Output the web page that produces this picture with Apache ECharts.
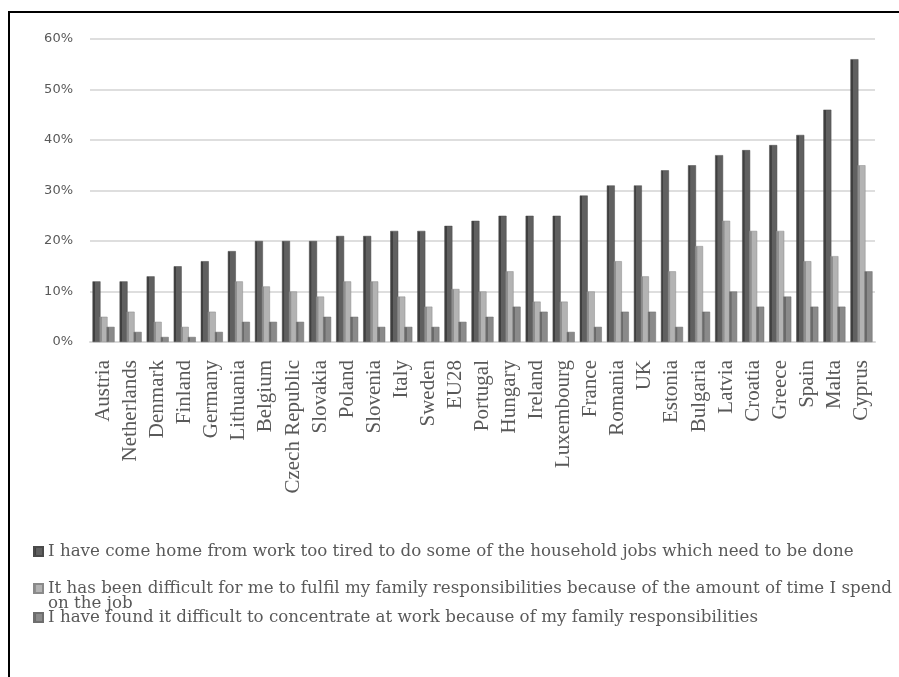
<!DOCTYPE html>
<html>
<head>
<meta charset="utf-8">
<title>Work-life conflict by country</title>
<script src="https://cdn.jsdelivr.net/npm/echarts@6/dist/echarts.min.js"></script>
<style>
  html, body { margin: 0; padding: 0; background: #fff; }
  #myChart { width: 899px; height: 677px; }
</style>
</head>
<body>
<div id="myChart"></div>
<script>
// countries, sorted the same way as the source picture
var countries = ["Austria", "Netherlands", "Denmark", "Finland", "Germany", "Lithuania", "Belgium",
  "Czech Republic", "Slovakia", "Poland", "Slovenia", "Italy", "Sweden", "EU28", "Portugal",
  "Hungary", "Ireland", "Luxembourg", "France", "Romania", "UK", "Estonia", "Bulgaria", "Latvia",
  "Croatia", "Greece", "Spain", "Malta", "Cyprus"];

var seriesNames = [
  "I have come home from work too tired to do some of the household jobs which need to be done",
  "It has been difficult for me to fulfil my family responsibilities because of the amount of time I spend on the job",
  "I have found it difficult to concentrate at work because of my family responsibilities"
];

// values in %
var tiredValues = [12, 12, 13, 15, 16, 18, 20, 20, 20, 21, 21, 22, 22, 23, 24,
  25, 25, 25, 29, 31, 31, 34, 35, 37, 38, 39, 41, 46, 56];
var familyValues = [5, 6, 4, 3, 6, 12, 11, 10, 9, 12, 12, 9, 7, 10.5, 10,
  14, 8, 8, 10, 16, 13, 14, 19, 24, 22, 22, 16, 17, 35];
var concentrateValues = [3, 2, 1, 1, 2, 4, 4, 4, 5, 5, 3, 3, 3, 4, 5,
  7, 6, 2, 3, 6, 6, 3, 6, 10, 7, 9, 7, 7, 14];

var yTicks = { min: 0, max: 60, interval: 10 };

// little fake-3D look: darker left edge on every bar
function shade(edge, face) {
  return new echarts.graphic.LinearGradient(0, 0, 1, 0, [
    { offset: 0, color: edge },
    { offset: 0.28, color: edge },
    { offset: 0.32, color: face },
    { offset: 1, color: face }
  ]);
}

// one legend per entry so each row can sit where the picture has it
function makeLegend(item, top, itemHeight, lineHeight) {
  return {
    data: [item],
    orient: "vertical",
    left: 33,
    top: top,
    padding: 0,
    itemWidth: 9,
    itemHeight: itemHeight,
    icon: "rect",
    textStyle: {
      fontFamily: "DejaVu Serif",
      fontSize: 16.7,
      lineHeight: lineHeight,
      color: "#595959"
    },
    formatter: function (n) {
      return n.replace(" on the job", "\non the job");
    }
  };
}

var myChart = echarts.init(document.getElementById("myChart"));

var option = {
  animation: false,
  backgroundColor: "#fff",
  graphic: [
    {
      type: "rect",
      shape: { x: 9, y: 12, width: 1200, height: 1200 },
      style: { fill: null, stroke: "#000", lineWidth: 2 },
      silent: true
    }
  ],
  legend: [
    makeLegend(seriesNames[0], 543, 9, 16),
    // square kept on the first of the two text lines
    makeLegend({ name: seriesNames[1], icon: "path://M0,0M0,3h9v9h-9zM9,30" }, 580, 30, 15),
    makeLegend(seriesNames[2], 609, 9, 16)
  ],
  grid: {
    left: 90,
    right: 24,
    top: 39,
    bottom: 335
  },
  xAxis: {
    type: "category",
    data: countries,
    axisLine: { lineStyle: { color: "#d9d9d9", width: 2 } },
    axisTick: { show: false },
    axisLabel: {
      interval: 0,
      rotate: 90,
      margin: 18,
      fontFamily: "Liberation Serif",
      fontSize: 21,
      color: "#595959"
    }
  },
  yAxis: {
    type: "value",
    min: yTicks.min,
    max: yTicks.max,
    interval: yTicks.interval,
    axisLine: { show: false },
    axisTick: { show: false },
    splitLine: { lineStyle: { color: "#dedede", width: 2 } },
    axisLabel: {
      formatter: "{value}%",
      margin: 17,
      fontFamily: "DejaVu Sans",
      fontSize: 13,
      color: "#595959"
    }
  },
  series: [
    {
      name: seriesNames[0],
      type: "bar",
      data: tiredValues,
      barWidth: 8,
      barGap: "-12%",
      itemStyle: { color: shade("#3f3f3f", "#606060"), borderColor: "#4a4a4a", borderWidth: 0.5 }
    },
    {
      name: seriesNames[1],
      type: "bar",
      data: familyValues,
      barWidth: 8,
      barGap: "-12%",
      itemStyle: { color: shade("#8f8f8f", "#b3b3b3"), borderColor: "#8a8a8a", borderWidth: 0.5 }
    },
    {
      name: seriesNames[2],
      type: "bar",
      data: concentrateValues,
      barWidth: 8,
      barGap: "-12%",
      itemStyle: { color: shade("#6a6a6a", "#8a8a8a"), borderColor: "#6e6e6e", borderWidth: 0.5 }
    }
  ]
};

myChart.setOption(option);
</script>
</body>
</html>
